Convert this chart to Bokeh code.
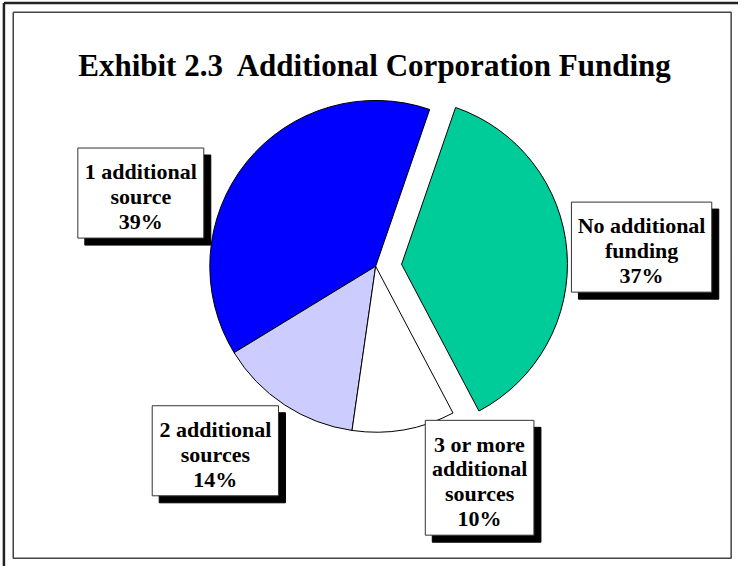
import numpy as np
from bokeh.plotting import figure
from bokeh.models import ColumnDataSource, Range1d
from bokeh.core.properties import value
from bokeh.embed import file_html
from bokeh.resources import INLINE

# ---------------- data ----------------
title_text = "Exhibit 2.3\u00a0 Additional Corporation Funding"
categories = ["1 additional source", "2 additional sources",
              "3 or more additional sources", "No additional funding"]
shares = [39, 14, 10, 37]                      # percent
label_words = [["1 additional", "source"],
               ["2 additional", "sources"],
               ["3 or more", "additional", "sources"],
               ["No additional", "funding"]]
colors = ["#0000FF", "#CCCCFF", "#FFFFFF", "#00CC99"]
exploded = [0, 0, 0, 1]

# ---------------- layout ----------------
W, H = 738, 566
KX, KY = W / 754.0, H / 582.0      # map reference-picture pixels into the figure
def fx(x):
    return x * KX
def fy(y):
    return H - y * KY

cx, cy = fx(383.3), fy(273.3)
R = 170 * (KX + KY) / 2
EXPLODE = 26
START = 71.0
# label box layout (reference-picture left, top, width)
box_layout = [(79, 151.7, 128.7), (155, 416.7, 129), (434, 431.7, 111), (583.3, 207.3, 143.4)]
LINE = 25.5
SHADOW = 7
FONT = value("Liberation Serif")

p = figure(width=W, height=H, output_backend="svg", toolbar_location=None,
           x_range=Range1d(0, W), y_range=Range1d(0, H),
           x_axis_location=None, y_axis_location=None, min_border=0,
           background_fill_color="white", border_fill_color="white")
p.grid.visible = False
p.outline_line_color = None

# frames (outer frame: only top and left edges are visible)
p.line([fx(3.5), fx(3.5)], [0, fy(2.5)], line_color="#222222", line_width=2.5)
p.line([fx(3.5), W], [fy(2.5), fy(2.5)], line_color="#222222", line_width=2.5)
l0, r0, t0, b0 = fx(13), fx(746.5), fy(12), fy(573.5)
p.line([l0, r0, r0, l0, l0], [t0, t0, b0, b0, t0], line_color="#444444", line_width=1.5)

# pie
vals = np.array(shares, dtype=float)
ang = vals / vals.sum() * 360.0
ends = START + np.cumsum(ang)
starts = ends - ang
mids = np.radians((starts + ends) / 2)
xs = cx + EXPLODE * np.array(exploded) * np.cos(mids)
ys = cy + EXPLODE * np.array(exploded) * np.sin(mids)
src = ColumnDataSource(dict(x=xs, y=ys, s=starts, e=ends, c=colors, cat=categories))
p.wedge(x="x", y="y", radius=R, start_angle="s", end_angle="e", start_angle_units="deg",
        end_angle_units="deg", fill_color="c", line_color="black", line_width=1, source=src)

# title
p.text(x=[fx(383)], y=[fy(67)], text=[title_text], text_font=FONT, text_font_size="31px",
       text_font_style="bold", text_align="center", text_baseline="alphabetic", text_color="black")

# labels
for (left, top, w), words, v in zip(box_layout, label_words, shares):
    lines = words + [f"{v}%"]
    h = 41.6 + (len(lines) - 1) * LINE
    l, r, t, b = fx(left), fx(left + w), fy(top), fy(top + h)
    p.quad(left=[l + SHADOW], right=[r + SHADOW], top=[t - SHADOW], bottom=[b - SHADOW],
           fill_color="black", line_color="black")
    p.quad(left=[l], right=[r], top=[t], bottom=[b], fill_color="white",
           line_color="#333333", line_width=1)
    mx = (l + r) / 2
    ty = [fy(top + 24.5 + i * LINE) for i in range(len(lines))]
    p.text(x=[mx] * len(lines), y=ty, text=lines, text_font=FONT, text_font_size="22px",
           text_font_style="bold", text_align="center", text_baseline="alphabetic",
           text_color="black")

open("out.html", "w").write(file_html(p, INLINE))
